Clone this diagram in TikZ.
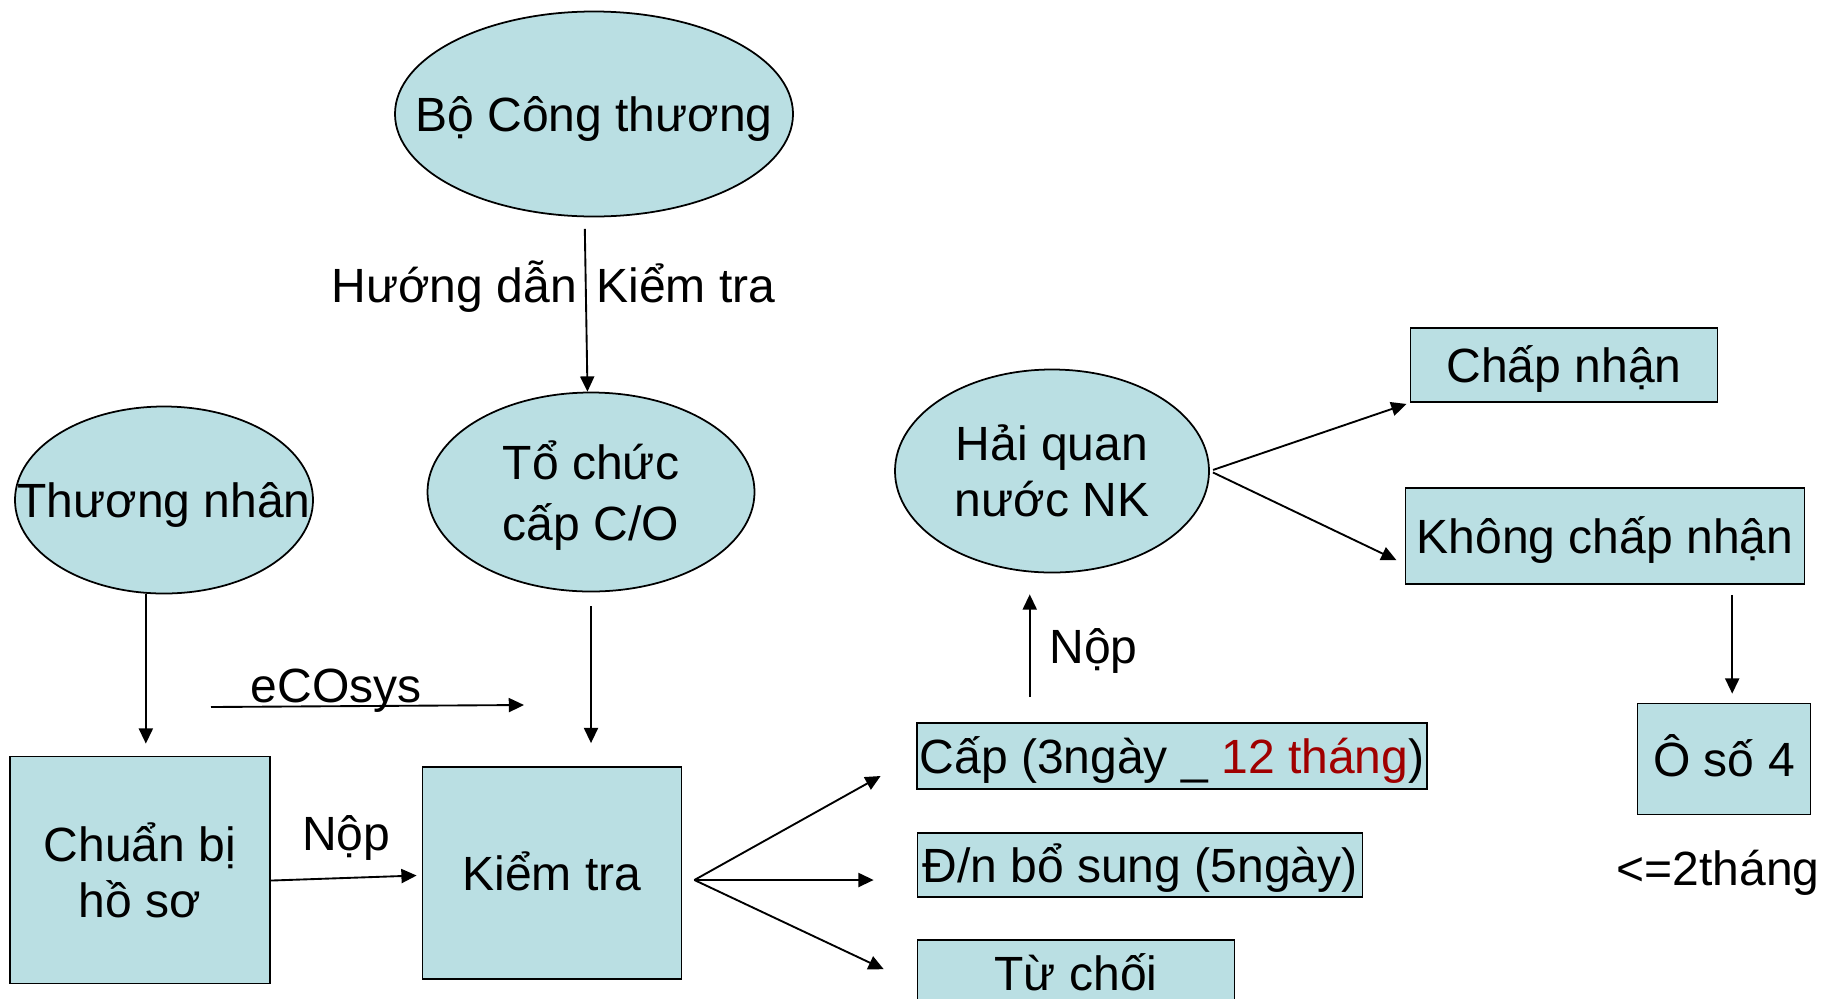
\documentclass[tikz,border=0pt]{standalone}
\usepackage{fontspec}
\setmainfont{Liberation Sans}
\usepackage{tikz}
\usetikzlibrary{shapes.geometric,arrows.meta,calc}
\definecolor{nen}{RGB}{186,223,227}
\definecolor{dodam}{RGB}{160,0,0}
\tikzstyle{oval} = [ellipse,draw,line width=1.5pt,fill=nen,inner sep=0pt]
\tikzstyle{hop} = [rectangle,draw,line width=1.5pt,fill=nen,inner sep=2pt]
\tikzstyle{mot} = [text height=30pt,text depth=0pt]
\tikzstyle{conn} = [line width=1.6pt,-{Triangle[length=13pt,width=12pt]}]

\begin{document}
\begin{tikzpicture}[x=0.03cm,y=-0.03cm,font=\fontsize{41}{48}\selectfont]
	\useasboundingbox (0,0) rectangle (1825,998);
	\clip (0,0) rectangle (1825,998);
	% co quan
	\node[oval,minimum width=11.94cm,minimum height=6.15cm,label={[mot]center:{Bộ Công thương}}](bo_ct) at (594,114){};
	\node[oval,minimum width=9.81cm,minimum height=5.97cm,label={[align=center,yshift=-3pt]center:{Tổ chức\\[4pt]cấp C/O}}](to_chuc) at (591,492){};
	\node[oval,minimum width=8.94cm,minimum height=5.61cm,label={[mot]center:{Thương nhân}}](thuong_nhan) at (164,500){};
	\node[oval,minimum width=9.42cm,minimum height=6.09cm,label={[align=center]center:{Hải quan\\nước NK}}](hai_quan) at (1052,471){};
	% cac buoc
	\node[hop,align=center,minimum width=7.8cm,minimum height=6.81cm](chuan_bi) at (140,870){Chuẩn bị\\hồ sơ};
	\node[hop,mot,minimum width=7.77cm,minimum height=6.36cm](kiem_tra) at (552,873){Kiểm tra};
	\node[hop,mot,minimum width=15.27cm,minimum height=1.98cm](cap) at (1172,756){Cấp (3ngày \_ \textcolor{dodam}{12 tháng})};
	\node[hop,mot,minimum width=13.35cm,minimum height=1.92cm](dn_bs) at (1140,865){Đ/n bổ sung (5ngày)};
	\node[hop,mot,minimum width=9.51cm,minimum height=1.98cm](tu_choi) at (1076,973){Từ chối};
	\node[hop,mot,minimum width=9.21cm,minimum height=2.22cm](chap_nhan) at (1564,365){Chấp nhận};
	\node[hop,mot,minimum width=11.97cm,minimum height=2.88cm](khong_cn) at (1605,536){Không chấp nhận};
	\node[hop,mot,minimum width=5.19cm,minimum height=3.33cm](o_so4) at (1724,759){Ô số 4};
	\node[inner sep=0pt](hai_thang) at (1718,873){<=2tháng};
	\coordinate (eco_a) at (211,707);
	\coordinate (eco_b) at (524,705);
	\coordinate (fan) at ($(kiem_tra.east)+(12,7)$);
	% mui ten
	\draw[conn,shorten <=0.345cm] ([xshift=-8pt]bo_ct.south) -- ([xshift=-3pt]to_chuc.north)
		node[pos=.49,anchor=base east,xshift=-7pt,inner sep=0pt]{Hướng dẫn}
		node[pos=.49,anchor=base west,xshift=8pt,inner sep=0pt]{Kiểm tra};
	\draw[conn,shorten >=0.36cm] ([xshift=5pt]chuan_bi.north |- thuong_nhan.south) -- ([xshift=5pt]chuan_bi.north);
	\draw[conn,shorten <=0.42cm,shorten >=0.69cm] (to_chuc.south) -- (to_chuc.south |- kiem_tra.north);
	\draw[conn] (eco_a) -- node[pos=.4,above,inner sep=4pt,yshift=-10pt]{eCOsys} (eco_b);
	\draw[conn,shorten >=0.15cm] ([yshift=-9pt]chuan_bi.east) -- ([yshift=-2pt]kiem_tra.west)
		node[midway,above=12pt,inner sep=2pt]{Nộp};
	\draw[conn,shorten >=1.23cm] (fan) -- (cap.west);
	\draw[conn,shorten >=1.29cm] (fan) -- (fan -| dn_bs.west);
	\draw[conn,shorten >=1.09cm] (fan) -- ([yshift=-10pt]tu_choi.west);
	\draw[conn,shorten <=0.75cm,shorten >=0.63cm] ([xshift=-19pt]hai_quan.south |- cap.north) -- ([xshift=-19pt]hai_quan.south)
		node[midway,right=14pt,inner sep=2pt,yshift=-3pt]{Nộp};
	\draw[conn,shorten <=0.1cm,shorten >=0.1cm] (hai_quan.east) -- (chap_nhan.south west);
	\draw[conn,shorten <=0.1cm,shorten >=0.27cm] (hai_quan.east) -- ([yshift=-24pt]khong_cn.west);
	\draw[conn,shorten <=0.3cm,shorten >=0.27cm] ([xshift=7pt]o_so4.north |- khong_cn.south) -- ([xshift=7pt]o_so4.north);
\end{tikzpicture}
\end{document}
